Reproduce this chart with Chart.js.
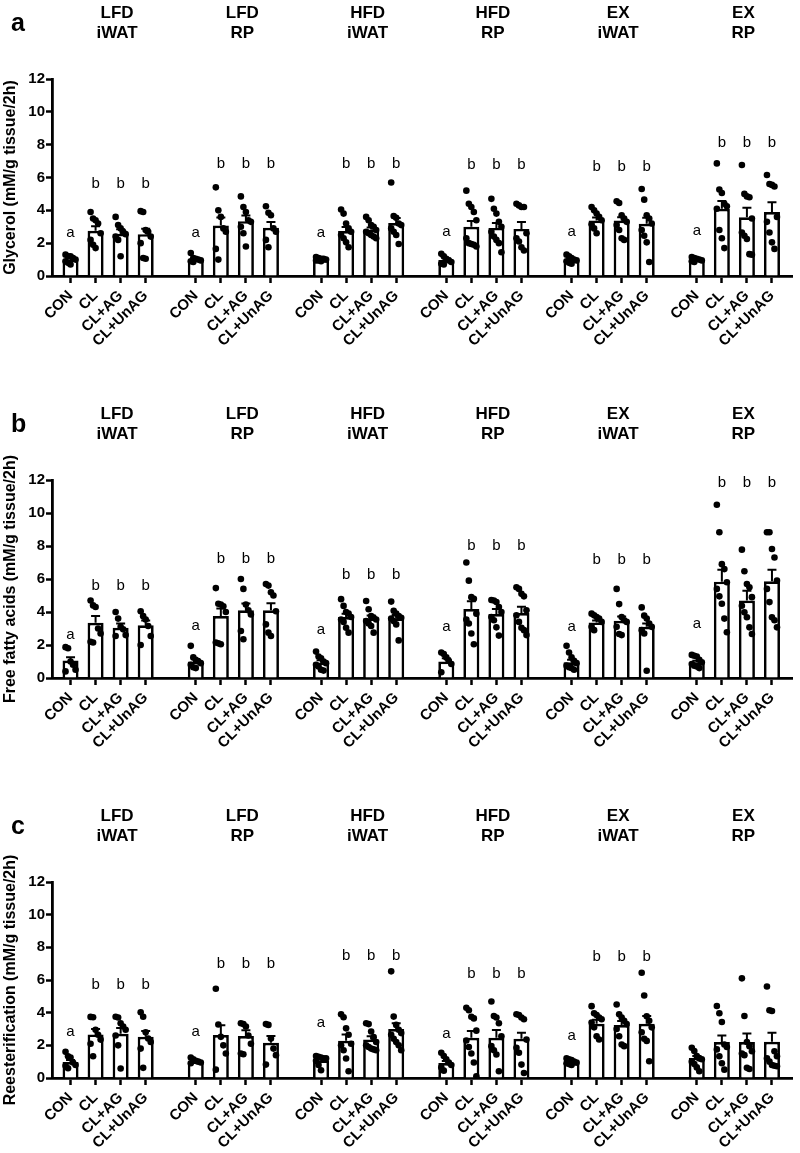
<!DOCTYPE html>
<html lang="en">
<head>
<meta charset="UTF-8" />
<title>Glycerol, free fatty acids and reesterification</title>
<script src="https://cdn.jsdelivr.net/npm/chart.js"></script>
<style>
  body { margin: 0; background: #fff; }
  canvas { position: absolute; left: 0; }
</style>
</head>
<body>
<canvas id="chartA" width="800" height="401" style="top:0"></canvas>
<canvas id="chartB" width="800" height="402" style="top:401px"></canvas>
<canvas id="chartC" width="800" height="350" style="top:803px"></canvas>

<script>
// groups (diet / depot) and treatments inside each group
const groups = [['LFD', 'iWAT'], ['LFD', 'RP'], ['HFD', 'iWAT'], ['HFD', 'RP'], ['EX', 'iWAT'], ['EX', 'RP']];
const treatments = ['CON', 'CL', 'CL+AG', 'CL+UnAG'];
const yTicks = [0, 2, 4, 6, 8, 10, 12];

// a: glycerol (mean, SEM, individual animals)
const glycerolMean = [[1.0, 2.75, 2.57, 2.55], [1.0, 3.07, 3.34, 2.94], [1.0, 2.74, 2.84, 3.23],
                      [0.98, 3.0, 2.93, 2.87], [1.0, 3.38, 3.38, 3.18], [0.98, 4.1, 3.58, 3.9]];
const glycerolSem = [[0.08, 0.28, 0.28, 0.33], [0.08, 0.5, 0.35, 0.35], [0.03, 0.25, 0.12, 0.3],
                     [0.08, 0.35, 0.3, 0.42], [0.07, 0.18, 0.2, 0.37], [0.04, 0.47, 0.58, 0.6]];
const glycerolDots = [
  [[1.3, 1.2, 1.2, 1.1, 1.0, 0.9, 0.8, 0.7], [3.9, 3.5, 3.4, 3.2, 2.6, 2.2, 1.9, 1.7],
   [3.6, 3.1, 2.9, 2.7, 2.55, 2.4, 2.2, 1.2], [3.95, 3.9, 2.8, 2.7, 2.4, 2.0, 1.1, 1.05]],
  [[1.4, 1.1, 1.05, 1.0, 0.95, 0.9, 0.85], [5.4, 4.0, 3.6, 2.9, 2.7, 1.65, 1.0],
   [4.85, 4.2, 3.9, 3.4, 3.3, 3.0, 2.6, 1.8], [4.25, 3.85, 3.7, 2.9, 2.7, 2.2, 1.75]],
  [[1.15, 1.1, 1.05, 1.0, 1.0, 0.95, 0.95, 0.9, 1.05], [4.05, 3.8, 3.2, 2.9, 2.7, 2.5, 2.3, 2.05, 1.75],
   [3.6, 3.4, 3.1, 3.0, 2.8, 2.7, 2.6, 2.5, 2.4, 2.3], [5.7, 3.65, 3.55, 3.2, 3.1, 2.9, 2.7, 2.5, 1.95]],
  [[1.35, 1.2, 1.05, 0.95, 0.85, 0.75, 0.7], [5.2, 4.4, 4.2, 3.9, 3.4, 2.3, 2.0, 1.95, 1.9, 1.8],
   [4.7, 4.1, 3.8, 3.3, 3.0, 2.7, 2.4, 2.2, 2.0, 1.45], [4.4, 4.3, 4.2, 4.2, 2.6, 2.3, 2.1, 1.75, 1.55]],
  [[1.3, 1.2, 1.1, 1.0, 0.95, 0.9, 0.8, 0.75], [4.2, 4.0, 3.8, 3.6, 3.4, 3.15, 2.9, 2.6],
   [4.55, 4.45, 3.7, 3.5, 3.3, 3.1, 2.8, 2.3, 2.2], [5.3, 4.65, 3.7, 3.5, 3.2, 2.8, 2.45, 2.05, 0.85]],
  [[1.15, 1.1, 1.05, 1.0, 0.95, 0.9, 0.85], [6.86, 5.27, 5.06, 4.4, 4.25, 4.1, 2.8, 2.3, 1.7],
   [6.76, 5.0, 4.85, 4.8, 3.5, 2.65, 2.45, 2.25, 1.33, 1.3], [6.15, 5.6, 5.55, 5.45, 3.6, 3.3, 2.65, 2.05, 1.65]]
];
const glycerolLetters = [['a', 'b'], ['a', 'b'], ['a', 'b'], ['a', 'b'], ['a', 'b'], ['a', 'b']];
const glycerolLetterLevel = [[2.6, 5.6], [2.6, 6.85], [2.6, 6.85], [2.7, 6.75], [2.7, 6.65], [2.75, 8.1]];

// b: free fatty acids
const ffaMean = [[1.06, 3.35, 3.05, 3.2], [1.0, 3.76, 4.1, 4.1], [0.94, 3.7, 3.62, 3.62],
                 [1.0, 4.18, 3.88, 3.94], [0.95, 3.37, 3.47, 3.11], [0.95, 5.84, 4.69, 5.86]];
const ffaSem = [[0.2, 0.41, 0.25, 0.28], [0.15, 0.45, 0.42, 0.43], [0.13, 0.2, 0.17, 0.2],
                [0.2, 0.47, 0.3, 0.38], [0.15, 0.12, 0.25, 0.2], [0.1, 0.72, 0.6, 0.7]];
const ffaDots = [
  [[1.87, 1.8, 1.0, 0.8, 0.5, 0.4], [4.7, 4.4, 4.3, 3.0, 2.7, 2.2, 2.15],
   [4.0, 3.6, 3.1, 2.95, 2.6, 2.55], [4.05, 3.75, 3.55, 3.15, 2.55, 2.0]],
  [[1.95, 1.25, 1.1, 1.0, 0.9, 0.8, 0.65, 0.6], [5.45, 4.5, 4.45, 4.35, 4.0, 2.15, 2.1, 2.05],
   [6.0, 5.4, 4.45, 4.1, 3.85, 2.85, 2.35], [5.7, 5.6, 5.2, 5.0, 4.05, 3.25, 2.75, 2.55]],
  [[1.6, 1.3, 1.2, 1.0, 0.9, 0.8, 0.7, 0.5, 0.45], [4.78, 4.37, 4.0, 3.9, 3.7, 3.55, 3.4, 3.05, 2.75],
   [4.67, 4.17, 3.75, 3.65, 3.55, 3.45, 3.3, 3.15, 2.75], [4.63, 4.07, 3.9, 3.75, 3.65, 3.6, 3.45, 3.25, 2.28]],
  [[1.55, 1.45, 1.25, 1.05, 0.85, 0.35], [7.0, 5.9, 4.9, 4.8, 3.9, 3.55, 3.3, 2.7, 2.05],
   [4.73, 4.7, 4.6, 4.3, 4.0, 3.7, 3.5, 3.07, 2.57], [5.5, 5.4, 5.1, 4.95, 4.1, 3.8, 3.4, 3.05, 2.9, 2.6]],
  [[1.95, 1.55, 1.25, 1.05, 0.9, 0.75, 0.65, 0.6, 0.5], [3.9, 3.8, 3.7, 3.6, 3.4, 3.1, 2.9],
   [5.4, 4.48, 3.7, 3.5, 3.4, 3.1, 2.67, 2.6], [4.28, 3.78, 3.6, 3.3, 3.1, 2.9, 2.7, 0.44]],
  [[1.4, 1.35, 1.3, 1.1, 0.95, 0.85, 0.75, 0.7, 0.6], [10.5, 8.83, 6.9, 6.6, 5.8, 5.4, 4.95, 4.5, 3.6, 2.77],
   [7.78, 6.47, 5.7, 5.5, 4.9, 4.38, 3.98, 3.68, 3.07, 2.67], [8.83, 8.83, 7.82, 7.3, 5.9, 5.4, 4.6, 3.68, 3.5, 3.07]]
];
const ffaLetters = [['a', 'b'], ['a', 'b'], ['a', 'b'], ['a', 'b'], ['a', 'b'], ['a', 'b']];
const ffaLetterLevel = [[2.6, 5.6], [3.15, 7.2], [2.9, 6.25], [3.07, 8.0], [3.1, 7.15], [3.27, 11.85]];

// c: reesterification
const reestMean = [[0.98, 2.67, 2.71, 2.52], [1.03, 2.63, 2.57, 2.16], [1.09, 2.28, 2.36, 3.0],
                   [0.92, 2.46, 2.46, 2.4], [0.92, 3.32, 3.24, 3.32], [1.23, 2.2, 2.2, 2.22]];
const reestSem = [[0.12, 0.33, 0.35, 0.35], [0.05, 0.6, 0.36, 0.41], [0.1, 0.39, 0.2, 0.35],
                  [0.12, 0.41, 0.48, 0.37], [0.04, 0.25, 0.25, 0.48], [0.12, 0.4, 0.53, 0.55]];
const reestDots = [
  [[1.6, 1.33, 1.25, 0.95, 0.8, 0.75, 0.6], [3.74, 3.72, 2.95, 2.65, 2.35, 2.1, 1.33],
   [3.75, 3.7, 3.35, 3.15, 2.95, 2.6, 2.0, 0.58], [4.02, 3.75, 2.8, 2.42, 2.2, 1.8, 0.62]],
  [[1.25, 1.15, 1.05, 1.0, 0.95, 0.9], [5.46, 3.28, 2.52, 2.0, 1.5, 0.51],
   [3.35, 3.3, 3.15, 2.6, 2.1, 1.5, 1.45], [3.3, 3.25, 2.42, 1.8, 1.4, 0.82]],
  [[1.35, 1.3, 1.25, 1.2, 1.2, 1.05, 0.8, 0.47], [3.9, 3.72, 3.04, 2.65, 2.1, 2.0, 1.7, 1.19, 0.41],
   [3.35, 3.3, 2.85, 2.5, 2.2, 2.0, 1.9, 1.8, 1.75, 1.7], [6.53, 3.76, 3.25, 2.95, 2.75, 2.65, 2.4, 2.2, 2.0, 1.7]],
  [[1.55, 1.35, 1.15, 0.95, 0.8, 0.65, 0.45], [4.3, 4.15, 3.75, 3.65, 2.9, 2.3, 1.9, 1.5, 0.95, 0.1],
   [4.68, 3.8, 3.7, 3.35, 2.56, 1.95, 1.7, 1.44, 0.41], [3.9, 3.85, 3.7, 3.6, 2.35, 1.85, 1.55, 0.82, 0.31]],
  [[1.2, 1.15, 1.1, 1.0, 0.95, 0.9, 0.85, 0.8], [4.4, 3.96, 3.85, 3.7, 3.6, 3.4, 3.1, 2.56, 2.36],
   [4.5, 3.9, 3.7, 3.5, 3.3, 3.0, 2.56, 2.05, 1.95], [6.44, 5.05, 3.78, 3.5, 3.1, 2.8, 2.4, 2.27, 1.03]],
  [[1.85, 1.65, 1.35, 1.2, 1.15, 1.0, 0.85, 0.65, 0.41], [4.41, 3.96, 3.43, 2.05, 1.9, 1.75, 1.33, 0.9, 0.51],
   [6.1, 3.8, 2.2, 1.95, 1.64, 1.5, 1.4, 0.62, 0.55], [5.6, 4.15, 4.1, 1.64, 1.33, 1.2, 1.0, 0.8, 0.75, 0.72]]
];
const reestLetters = [['a', 'b'], ['a', 'b'], ['a', 'b'], ['a', 'b'], ['a', 'b'], ['', '']];
const reestLetterLevel = [[2.83, 5.7], [2.83, 7.0], [3.35, 7.45], [2.73, 6.36], [2.57, 7.4], [0, 0]];

const FONT = "'Liberation Sans', Arial, Helvetica, sans-serif";
const SLOT = 5; // 4 bars + one empty slot between groups

// bar positions on the x axis
const barPos = [];
groups.forEach((_, g) => treatments.forEach((_, i) => barPos.push(g * SLOT + i)));

// error bars, group titles, significance letters, panel letter
const panelDecor = {
  id: 'panelDecor',
  afterDatasetDraw(chart, args, opts) {
    if (args.index !== 0) return;
    const ctx = chart.ctx, x = chart.scales.x, y = chart.scales.y;
    ctx.save();
    ctx.strokeStyle = '#000';
    ctx.lineWidth = 2;
    opts.mean.forEach((row, g) => row.forEach((m, i) => {
      const px = x.getPixelForValue(g * SLOT + i);
      const base = y.getPixelForValue(m);
      const top = y.getPixelForValue(m + opts.sem[g][i]);
      ctx.beginPath();
      ctx.moveTo(px, base);
      ctx.lineTo(px, top);
      ctx.moveTo(px - 4.5, top);
      ctx.lineTo(px + 4.5, top);
      ctx.stroke();
    }));
    ctx.restore();
  },
  afterDraw(chart, args, opts) {
    const ctx = chart.ctx, x = chart.scales.x, y = chart.scales.y, top = chart.chartArea.top;
    ctx.save();
    ctx.fillStyle = '#000';
    ctx.textAlign = 'center';
    ctx.textBaseline = 'middle';

    // group titles
    ctx.font = 'bold 17px ' + FONT;
    groups.forEach((lines, g) => {
      const cx = x.getPixelForValue(g * SLOT + 1.5) + 9;
      ctx.fillText(lines[0], cx, top - 66);
      ctx.fillText(lines[1], cx, top - 46);
    });

    // significance letters
    ctx.font = '15px ' + FONT;
    opts.letters.forEach((pair, g) => {
      treatments.forEach((_, i) => {
        const k = i === 0 ? 0 : 1;
        if (!pair[k]) return;
        ctx.fillText(pair[k], x.getPixelForValue(g * SLOT + i), y.getPixelForValue(opts.letterLevel[g][k]));
      });
    });

    // panel letter
    ctx.font = 'bold 25px ' + FONT;
    ctx.textAlign = 'left';
    ctx.fillText(opts.panel, 11, top - 55);
    ctx.restore();
  }
};

function makePanel(id, panel, yTitle, mean, sem, dots, letters, letterLevel, xHeight) {
  const bars = [];
  const points = [];
  mean.forEach((row, g) => row.forEach((m, i) => {
    const pos = g * SLOT + i;
    bars.push({ x: pos, y: m });
    dots[g][i].forEach((v, j) => {
      // spread the animals across the bar
      points.push({ x: pos + ((j % 5) - 2) * 0.1, y: v });
    });
  }));

  new Chart(document.getElementById(id), {
    type: 'bar',
    data: {
      datasets: [
        {
          type: 'bar',
          data: bars,
          backgroundColor: '#fff',
          borderColor: '#000',
          borderWidth: 2.7,
          barPercentage: 0.64,
          categoryPercentage: 1,
          order: 2
        },
        {
          type: 'scatter',
          data: points,
          pointRadius: 3.3,
          pointBackgroundColor: '#000',
          pointBorderWidth: 0,
          order: 1
        }
      ]
    },
    options: {
      responsive: false,
      animation: false,
      layout: { padding: { top: 79, right: 8, left: 0, bottom: 0 } },
      plugins: {
        legend: { display: false },
        tooltip: { enabled: false },
        panelDecor: { panel, mean, sem, letters, letterLevel }
      },
      scales: {
        x: {
          type: 'linear',
          offset: false,
          min: -0.74,
          max: 28.8,
          afterBuildTicks: s => { s.ticks = barPos.map(v => ({ value: v })); },
          afterFit: s => { s.height = xHeight; },
          border: { color: '#000', width: 2.8 },
          grid: { offset: false, drawOnChartArea: false, color: '#000', tickLength: 7, tickWidth: 2.5 },
          ticks: {
            autoSkip: false,
            minRotation: 45,
            maxRotation: 45,
            padding: 4,
            color: '#000',
            font: { family: FONT, size: 15, weight: 'bold' },
            callback: v => treatments[Math.round(v) % SLOT] || ''
          }
        },
        y: {
          min: 0,
          max: 12,
          afterBuildTicks: s => { s.ticks = yTicks.map(v => ({ value: v })); },
          afterFit: s => { s.width = 52; },
          border: { color: '#000', width: 2.8 },
          grid: { drawOnChartArea: false, color: '#000', tickLength: 6, tickWidth: 2.5 },
          ticks: { color: '#000', padding: 1, font: { family: FONT, size: 15, weight: 'bold' } },
          title: {
            display: true,
            text: yTitle,
            color: '#000',
            padding: { top: 1, bottom: 0 },
            font: { family: FONT, size: 16, weight: 'bold' }
          }
        }
      }
    },
    plugins: [panelDecor]
  });
}

makePanel('chartA', 'a', 'Glycerol (mM/g tissue/2h)', glycerolMean, glycerolSem, glycerolDots,
          glycerolLetters, glycerolLetterLevel, 125);
makePanel('chartB', 'b', 'Free fatty acids (mM/g tissue/2h)', ffaMean, ffaSem, ffaDots,
          ffaLetters, ffaLetterLevel, 125);
makePanel('chartC', 'c', 'Reesterification (mM/g tissue/2h)', reestMean, reestSem, reestDots,
          reestLetters, reestLetterLevel, 75);
</script>
</body>
</html>
